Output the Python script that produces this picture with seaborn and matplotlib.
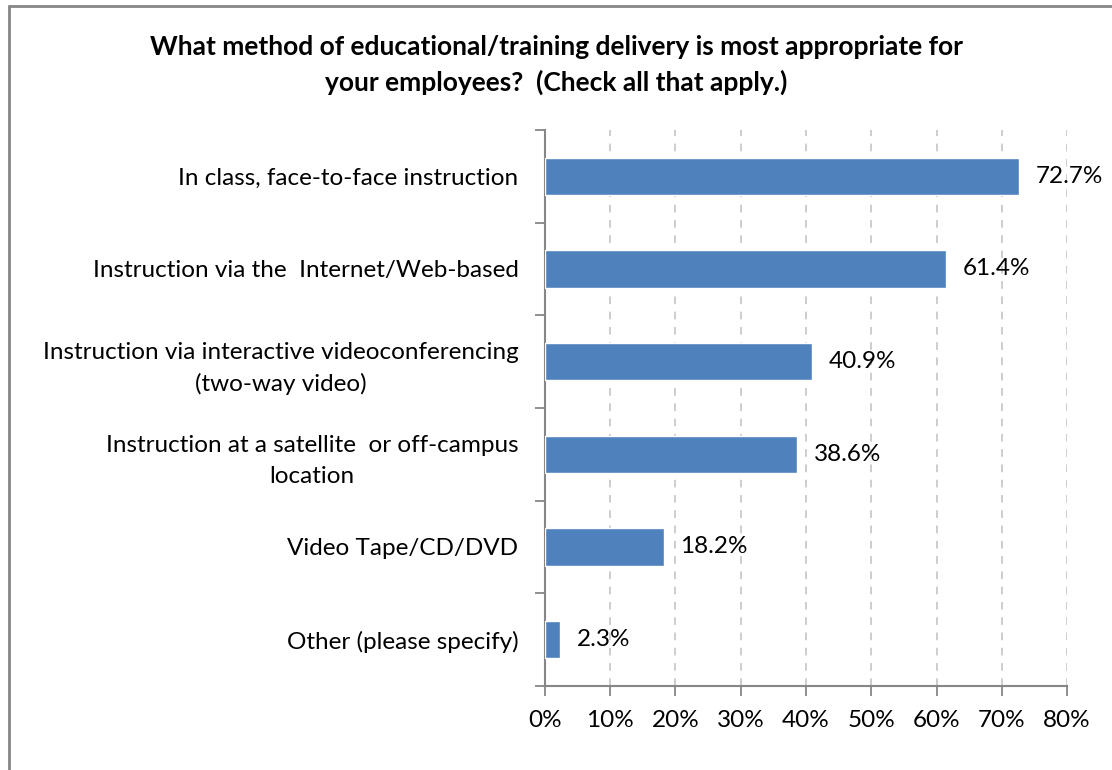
import matplotlib
matplotlib.use("Agg")
import matplotlib.pyplot as plt
from matplotlib.lines import Line2D
from matplotlib.ticker import FixedLocator, PercentFormatter
import seaborn as sns
import pandas as pd

categories = [
    "In class, face-to-face instruction",
    "Instruction via the  Internet/Web-based",
    "Instruction via interactive videoconferencing\n(two-way video)",
    "Instruction at a satellite  or off-campus\nlocation",
    "Video Tape/CD/DVD",
    "Other (please specify)",
]
values = [72.7, 61.4, 40.9, 38.6, 18.2, 2.3]
x_ticks = [0, 10, 20, 30, 40, 50, 60, 70, 80]
title = ("What method of educational/training delivery is most appropriate for\n"
         "your employees?  (Check all that apply.)")

sns.set_theme(style="white")
plt.rcParams["font.family"] = ["Lato", "DejaVu Sans"]

bar_color = "#4F81BD"
axis_gray = "#868686"
text_size = 17.5

df = pd.DataFrame({"category": categories, "value": values})

fig = plt.figure(figsize=(11.12, 7.70), dpi=100)
ax = fig.add_axes([0.490, 0.1091, 0.4696, 0.7221])

sns.barplot(data=df, x="value", y="category", orient="h", color=bar_color,
            width=0.4, saturation=1, ax=ax, zorder=3)

ax.set_xlim(0, 80)
ax.set_ylim(len(categories) - 0.5, -0.5)
ax.set_xlabel("")
ax.set_ylabel("")

# dashed vertical gridlines
ax.xaxis.set_major_locator(FixedLocator(x_ticks))
ax.xaxis.set_major_formatter(PercentFormatter(decimals=0))
ax.grid(axis="x", color="#C0C0C0", linestyle=(0, (5, 5)), linewidth=1.1, zorder=0)
ax.grid(axis="y", visible=False)

for side in ["top", "right"]:
    ax.spines[side].set_visible(False)
for side in ["left", "bottom"]:
    ax.spines[side].set_color(axis_gray)
    ax.spines[side].set_linewidth(1.5)

ax.tick_params(axis="x", which="major", direction="out", length=7, width=1.3,
               color=axis_gray, pad=10, labelsize=text_size, labelcolor="#000000",
               bottom=True)
# category labels sit between boundary ticks
ax.tick_params(axis="y", which="major", length=0, pad=19, labelsize=text_size,
               labelcolor="#000000")
ax.yaxis.set_minor_locator(FixedLocator([i - 0.5 for i in range(len(categories) + 1)]))
ax.tick_params(axis="y", which="minor", direction="out", length=7, width=1.3,
               color=axis_gray, left=True)
for lbl in ax.get_yticklabels():
    lbl.set_multialignment("center")
    lbl.set_linespacing(1.55)

# value labels
for i, v in enumerate(values):
    ax.annotate(f"{v:.1f}%", xy=(v, i), xytext=(12, 0), textcoords="offset points",
                ha="left", va="center", fontsize=text_size, color="#000000", zorder=5)

fig.text(0.5, 1 - 65 / 770, title, ha="center", va="center", fontsize=19,
         fontweight="bold", linespacing=1.5, color="#000000")

# chart area border (left and top edges)
fig.add_artist(Line2D([8.5 / 1112, 8.5 / 1112], [0, 1 - 5.5 / 770],
                      transform=fig.transFigure, color=axis_gray, linewidth=2))
fig.add_artist(Line2D([8.5 / 1112, 1], [1 - 5.5 / 770, 1 - 5.5 / 770],
                      transform=fig.transFigure, color=axis_gray, linewidth=2))

fig.savefig("out.png", dpi=100, facecolor="white")
